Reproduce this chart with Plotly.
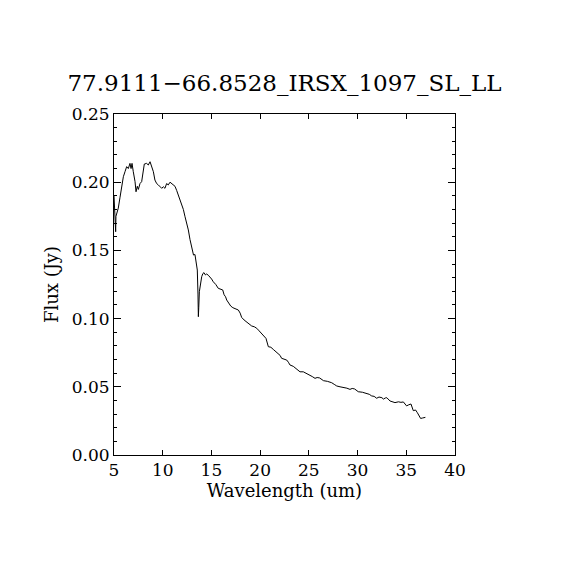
import plotly.graph_objects as go

wavelength = [5.0, 5.1, 5.17, 5.2, 5.3, 5.44, 5.62, 5.79, 5.96, 6.13, 6.3, 6.47, 6.64, 6.75, 6.85,
              6.98, 7.16, 7.26, 7.39, 7.5, 7.67, 7.84, 8.0, 8.11, 8.35, 8.52, 8.7, 8.87, 9.04,
              9.2, 9.38, 9.55, 9.72, 9.9, 10.06, 10.23, 10.4, 10.57, 10.75, 10.92, 11.1, 11.26,
              11.43, 11.6, 11.78, 11.95, 12.12, 12.29, 12.46, 12.63, 12.8, 12.98, 13.16, 13.31,
              13.42, 13.55, 13.62, 13.66, 13.7, 13.76, 13.88, 14.0, 14.12, 14.24, 14.38, 14.51,
              14.68, 14.85, 15.02, 15.19, 15.45, 15.7, 15.95, 16.16, 16.3, 16.45, 16.57, 16.78,
              16.98, 17.2, 17.42, 17.6, 17.76, 17.95, 18.1, 18.35, 18.62, 18.9, 19.13, 19.4,
              19.65, 19.9, 20.16, 20.4, 20.6, 20.84, 21.1, 21.35, 21.6, 21.87, 22.05, 22.2,
              22.45, 22.73, 22.9, 23.06, 23.4, 23.75, 24.09, 24.43, 24.8, 25.1, 25.35, 25.63,
              25.85, 26.1, 26.5, 26.9, 27.34, 27.6, 27.86, 28.2, 28.54, 28.9, 29.22, 29.45,
              29.7, 30.07, 30.5, 30.94, 31.2, 31.45, 31.7, 31.96, 32.2, 32.5, 32.65, 32.85,
              33.0, 33.33, 33.6, 33.84, 34.2, 34.45, 34.7, 35.03, 35.25, 35.48, 35.72, 35.95,
              36.14, 36.3, 36.47, 36.65, 36.96]
flux = [0.190, 0.172, 0.1637, 0.175, 0.178, 0.181, 0.189, 0.197, 0.204, 0.2077, 0.2114, 0.210,
        0.2138, 0.210, 0.2138, 0.2077, 0.2004, 0.193, 0.197, 0.1947, 0.199, 0.2004, 0.209,
        0.2133, 0.2138, 0.2126, 0.215, 0.2114, 0.2077, 0.2016, 0.199, 0.198, 0.197, 0.1955,
        0.1967, 0.1955, 0.199, 0.198, 0.2, 0.199, 0.198, 0.197, 0.194, 0.1906, 0.188, 0.1845,
        0.180, 0.1747, 0.170, 0.165, 0.158, 0.1527, 0.1466, 0.147, 0.1405, 0.1356, 0.118,
        0.1014, 0.108, 0.1197, 0.127, 0.1307, 0.133, 0.1337, 0.132, 0.1327, 0.1318, 0.1307,
        0.129, 0.127, 0.125, 0.1222, 0.1215, 0.121, 0.1175, 0.116, 0.1136, 0.111, 0.1092,
        0.108, 0.1075, 0.107, 0.1063, 0.104, 0.1009, 0.099, 0.0977, 0.096, 0.0946, 0.094,
        0.0929, 0.091, 0.0892, 0.087, 0.0855, 0.0794, 0.079, 0.0774, 0.076, 0.0745, 0.073,
        0.0709, 0.070, 0.0696, 0.068, 0.066, 0.065, 0.0628, 0.061, 0.061, 0.0598, 0.0587,
        0.0575, 0.0562, 0.0568, 0.0565, 0.0545, 0.054, 0.053, 0.0518, 0.0506, 0.050, 0.0496,
        0.049, 0.0481, 0.0488, 0.0484, 0.0464, 0.046, 0.0452, 0.0445, 0.0433, 0.043, 0.0416,
        0.0425, 0.042, 0.041, 0.0418, 0.042, 0.0396, 0.039, 0.0384, 0.039, 0.0386, 0.0389,
        0.036, 0.0368, 0.0374, 0.0325, 0.033, 0.031, 0.029, 0.0268, 0.0271, 0.0276]

title_text = "77.9111\u221266.8528_IRSX_1097_SL_LL"
x_label = "Wavelength (um)"
y_label = "Flux (Jy)"
x_ticks = [5, 10, 15, 20, 25, 30, 35, 40]
y_ticks = [0.00, 0.05, 0.10, 0.15, 0.20, 0.25]

font_family = "DejaVu Serif, serif"

fig = go.Figure()
fig.add_trace(go.Scatter(x=wavelength, y=flux, mode="lines",
                         line=dict(color="black", width=1), showlegend=False))

fig.update_layout(
    width=570, height=570,
    paper_bgcolor="white", plot_bgcolor="white",
    margin=dict(l=106, r=123, t=106, b=123),
    font=dict(family=font_family, color="black", size=17),
    title=dict(text=title_text, x=0.5, xanchor="center", xref="paper",
               y=0.868, yanchor="middle",
               font=dict(size=23, family=font_family)),
)
fig.update_xaxes(
    range=[5, 40], tickmode="array", tickvals=x_ticks,
    ticktext=[str(v) for v in x_ticks],
    ticks="inside", ticklen=5, tickcolor="black", tickwidth=1,
    showline=True, linecolor="black", linewidth=1, mirror="ticks",
    showgrid=False, zeroline=False,
    title=dict(text=x_label, standoff=4, font=dict(size=18)),
    tickfont=dict(size=17),
)
fig.update_yaxes(
    range=[0, 0.25], tickmode="array", tickvals=y_ticks,
    ticktext=[f"{v:.2f}" for v in y_ticks],
    ticks="inside", ticklen=7, tickcolor="black", tickwidth=1,
    minor=dict(ticks="inside", ticklen=3, dtick=0.01, tickcolor="black", showgrid=False),
    showline=True, linecolor="black", linewidth=1, mirror="ticks",
    showgrid=False, zeroline=False,
    title=dict(text=y_label, standoff=8, font=dict(size=18)),
    tickfont=dict(size=17),
)

fig.write_html("out.html")
